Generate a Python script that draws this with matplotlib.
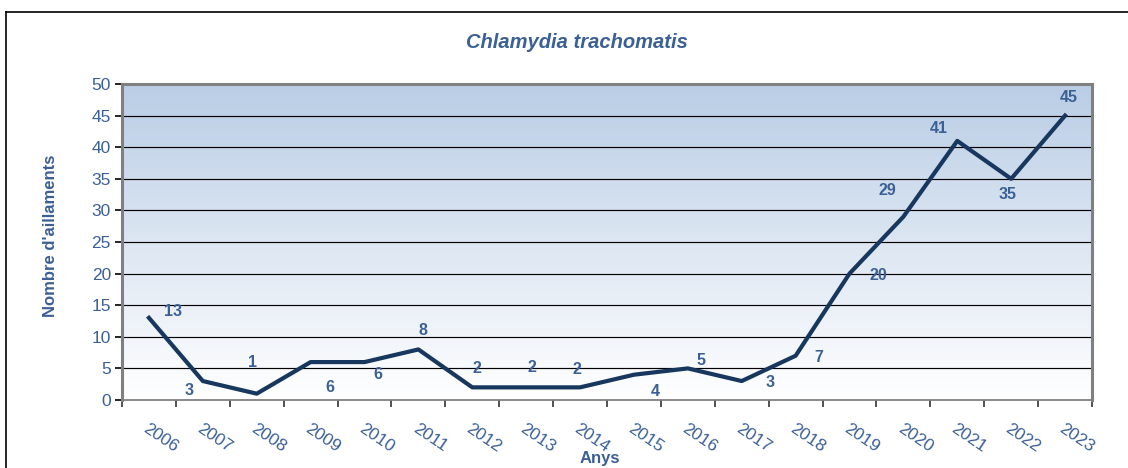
import numpy as np
import matplotlib
matplotlib.use("Agg")
import matplotlib.pyplot as plt
from matplotlib.lines import Line2D

plt.rcParams['font.family'] = ['Liberation Sans', 'DejaVu Sans']

# Data
years = ["2006", "2007", "2008", "2009", "2010", "2011", "2012", "2013", "2014",
         "2015", "2016", "2017", "2018", "2019", "2020", "2021", "2022", "2023"]
cases = [13, 3, 1, 6, 6, 8, 2, 2, 2, 4, 5, 3, 7, 20, 29, 41, 35, 45]

# where each value label sits relative to its point (pixels)
label_offsets = [(24, 6), (-14, -9), (-4, 31), (19, -25), (13, -12), (5, 19),
                 (5, 19), (6, 20), (-3, 18), (21, -17), (13, 8), (28, -1),
                 (23, -2), (29, -2), (-16, 26), (-19, 12), (-4, -16), (4, 18)]

TEXT_BLUE = "#3b6096"
LINE_BLUE = "#17375e"

fig = plt.figure(figsize=(11.28, 4.68), dpi=100)
ax = fig.add_axes([122 / 1128, 1 - 400 / 468, 970 / 1128, 316 / 468])

x = np.arange(len(years))
ax.set_xlim(-0.5, len(years) - 0.5)
ax.set_ylim(0, 50)

# gradient background
grad = np.linspace(0, 1, 256).reshape(-1, 1)
cmap = matplotlib.colors.LinearSegmentedColormap.from_list("bg", ["#ffffff", "#b9cde5"])
ax.imshow(grad, aspect="auto", cmap=cmap, origin="lower",
          extent=[-0.5, len(years) - 0.5, 0, 50], zorder=0)

# horizontal grid
ax.set_yticks(np.arange(0, 51, 5))
for yv in range(5, 50, 5):
    ax.axhline(yv, color="black", lw=0.85, zorder=1)

ax.plot(x, cases, color=LINE_BLUE, lw=3.0, solid_joinstyle="round", zorder=3)

for xi, v, off in zip(x, cases, label_offsets):
    ax.annotate(str(v), (xi, v), xytext=off, textcoords="offset pixels",
                ha="center", va="center", fontsize=11.5, fontweight="bold",
                color=TEXT_BLUE, zorder=4)

# x ticks at category boundaries, labels at centers
ax.set_xticks(np.arange(-0.5, len(years), 1.0))
ax.set_xticklabels([])
ax.set_xticks(x, minor=True)
ax.set_xticklabels(years, minor=True, rotation=-34, ha="left", va="top",
                   rotation_mode="anchor", fontsize=12.5, color=TEXT_BLUE)
ax.tick_params(axis="x", which="major", length=5, width=1.2, color="#333333")
ax.tick_params(axis="x", which="minor", length=0, pad=15)
ax.tick_params(axis="y", length=5, width=1.2, color="black", labelsize=12.5,
               labelcolor=TEXT_BLUE, pad=3)

for side in ["left", "top", "right"]:
    ax.spines[side].set_color("#808080")
    ax.spines[side].set_linewidth(2.2)
ax.spines["bottom"].set_color("#808080")
ax.spines["bottom"].set_linewidth(1.3)

ax.set_ylabel("Nombre d'aillaments", fontsize=12, fontweight="bold",
              color=TEXT_BLUE)
ax.yaxis.set_label_coords((58 - 122) / 970, (400 - 236) / 316)
fig.text(600 / 1128, 1 - 458 / 468, "Anys", ha="center", va="center",
         fontsize=12, fontweight="bold", color=TEXT_BLUE)
fig.text(577 / 1128, 1 - 43 / 468, "Chlamydia trachomatis", ha="center",
         va="center", fontsize=14.5, fontweight="bold", style="italic",
         color=TEXT_BLUE)

# outer frame
fig.add_artist(Line2D([6 / 1128, 6 / 1128], [0, 1 - 12 / 468], color="black",
                      lw=1.2, transform=fig.transFigure))
fig.add_artist(Line2D([6 / 1128, 1], [1 - 12 / 468, 1 - 12 / 468], color="black",
                      lw=1.2, transform=fig.transFigure))

fig.savefig("out.png", dpi=100)
